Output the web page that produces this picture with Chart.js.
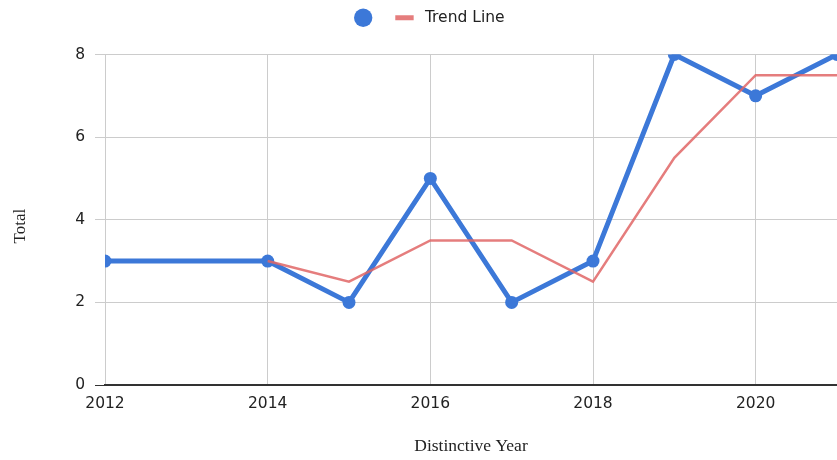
<!DOCTYPE html>
<html>
<head>
<meta charset="utf-8">
<script src="https://cdn.jsdelivr.net/npm/chart.js@4"></script>
<style>
  html, body { margin: 0; padding: 0; background: #fff; overflow: hidden; }
  #wrap { width: 837px; height: 460px; }
  canvas { display: block; }
</style>
</head>
<body>
<div id="wrap"><canvas id="chart"></canvas></div>
<script>
// values
const years = [2012, 2014, 2015, 2016, 2017, 2018, 2019, 2020, 2021]
const totals = [3, 3, 2, 5, 2, 3, 8, 7, 8]
const trendYears = [2014, 2015, 2016, 2017, 2018, 2019, 2020, 2021]
const trendValues = [3, 2.5, 3.5, 3.5, 2.5, 5.5, 7.5, 7.5]
const yTicks = [0, 2, 4, 6, 8]

const BLUE = '#3c78d8'
const RED = 'rgba(224, 102, 102, 0.85)'
const SANS = 'DejaVu Sans, Verdana, sans-serif'
const SERIF = 'Liberation Serif, Times New Roman, serif'

// push the plot below the legend and nudge the legend to the right
const legendGap = {
  id: 'legendGap',
  beforeInit(chart) {
    const fit = chart.legend.fit
    chart.legend.fit = function () {
      fit.bind(chart.legend)()
      this.height += 19
      if (this.lineWidths && this.lineWidths.length) this.lineWidths[0] -= 23
    }
  }
}

new Chart(document.getElementById('chart'), {
  type: 'line',
  data: {
    datasets: [
      {
        label: ' \u2009',
        data: years.map((y, i) => ({ x: y, y: totals[i] })),
        borderColor: BLUE,
        backgroundColor: BLUE,
        borderWidth: 5,
        pointRadius: 6.5,
        pointBorderWidth: 0,
        pointHoverRadius: 6.5,
        pointStyle: 'circle',
        tension: 0,
        clip: 0,
        order: 1
      },
      {
        label: ' Trend Line',
        data: trendYears.map((y, i) => ({ x: y, y: trendValues[i] })),
        borderColor: RED,
        backgroundColor: RED,
        borderWidth: 2.5,
        pointRadius: 0,
        pointStyle: 'line',
        tension: 0,
        clip: 0,
        order: 0
      }
    ]
  },
  options: {
    responsive: true,
    maintainAspectRatio: false,
    animation: false,
    layout: { padding: 0, autoPadding: false },
    plugins: {
      tooltip: { enabled: false },
      legend: {
        position: 'top',
        labels: {
          usePointStyle: true,
          boxWidth: 16,
          boxHeight: 13,
          padding: 10,
          color: '#222',
          font: { family: SANS, size: 15.5 },
          sort: (a, b) => a.datasetIndex - b.datasetIndex,
          generateLabels(chart) {
            const items = Chart.defaults.plugins.legend.labels.generateLabels(chart)
            items.forEach(it => {
              if (it.datasetIndex === 1) it.lineWidth = 5
            })
            return items
          }
        }
      }
    },
    scales: {
      x: {
        type: 'linear',
        min: 2012,
        max: 2021,
        grid: { color: '#cccccc', lineWidth: 1, drawTicks: false },
        border: { color: '#333333', width: 1.5 },
        ticks: {
          stepSize: 2,
          includeBounds: false,
          padding: 10,
          color: '#222',
          font: { family: SANS, size: 15.5 },
          callback: v => String(v),
          maxRotation: 0
        },
        title: {
          display: true,
          text: 'Distinctive Year',
          color: '#222',
          font: { family: SERIF, size: 17.5 },
          padding: { top: 22, bottom: 3 }
        },
        afterFit(scale) {
          scale.height = 75
          scale.paddingRight = 0
          scale.paddingLeft = 0
        }
      },
      y: {
        min: 0,
        max: 8,
        afterBuildTicks(scale) { scale.ticks = yTicks.map(v => ({ value: v })) },
        grid: {
          color: ctx => ctx.tick && ctx.tick.value === 0 ? '#333333' : '#cccccc',
          lineWidth: 1,
          tickLength: 10
        },
        border: { display: false },
        ticks: {
          padding: 10,
          color: '#222',
          font: { family: SANS, size: 15.5 }
        },
        title: {
          display: true,
          text: 'Total   ',
          color: '#222',
          font: { family: SERIF, size: 17 },
          padding: { top: 10, bottom: 0 }
        },
        afterFit(scale) { scale.width = 105 }
      }
    }
  },
  plugins: [legendGap]
})
</script>
</body>
</html>
